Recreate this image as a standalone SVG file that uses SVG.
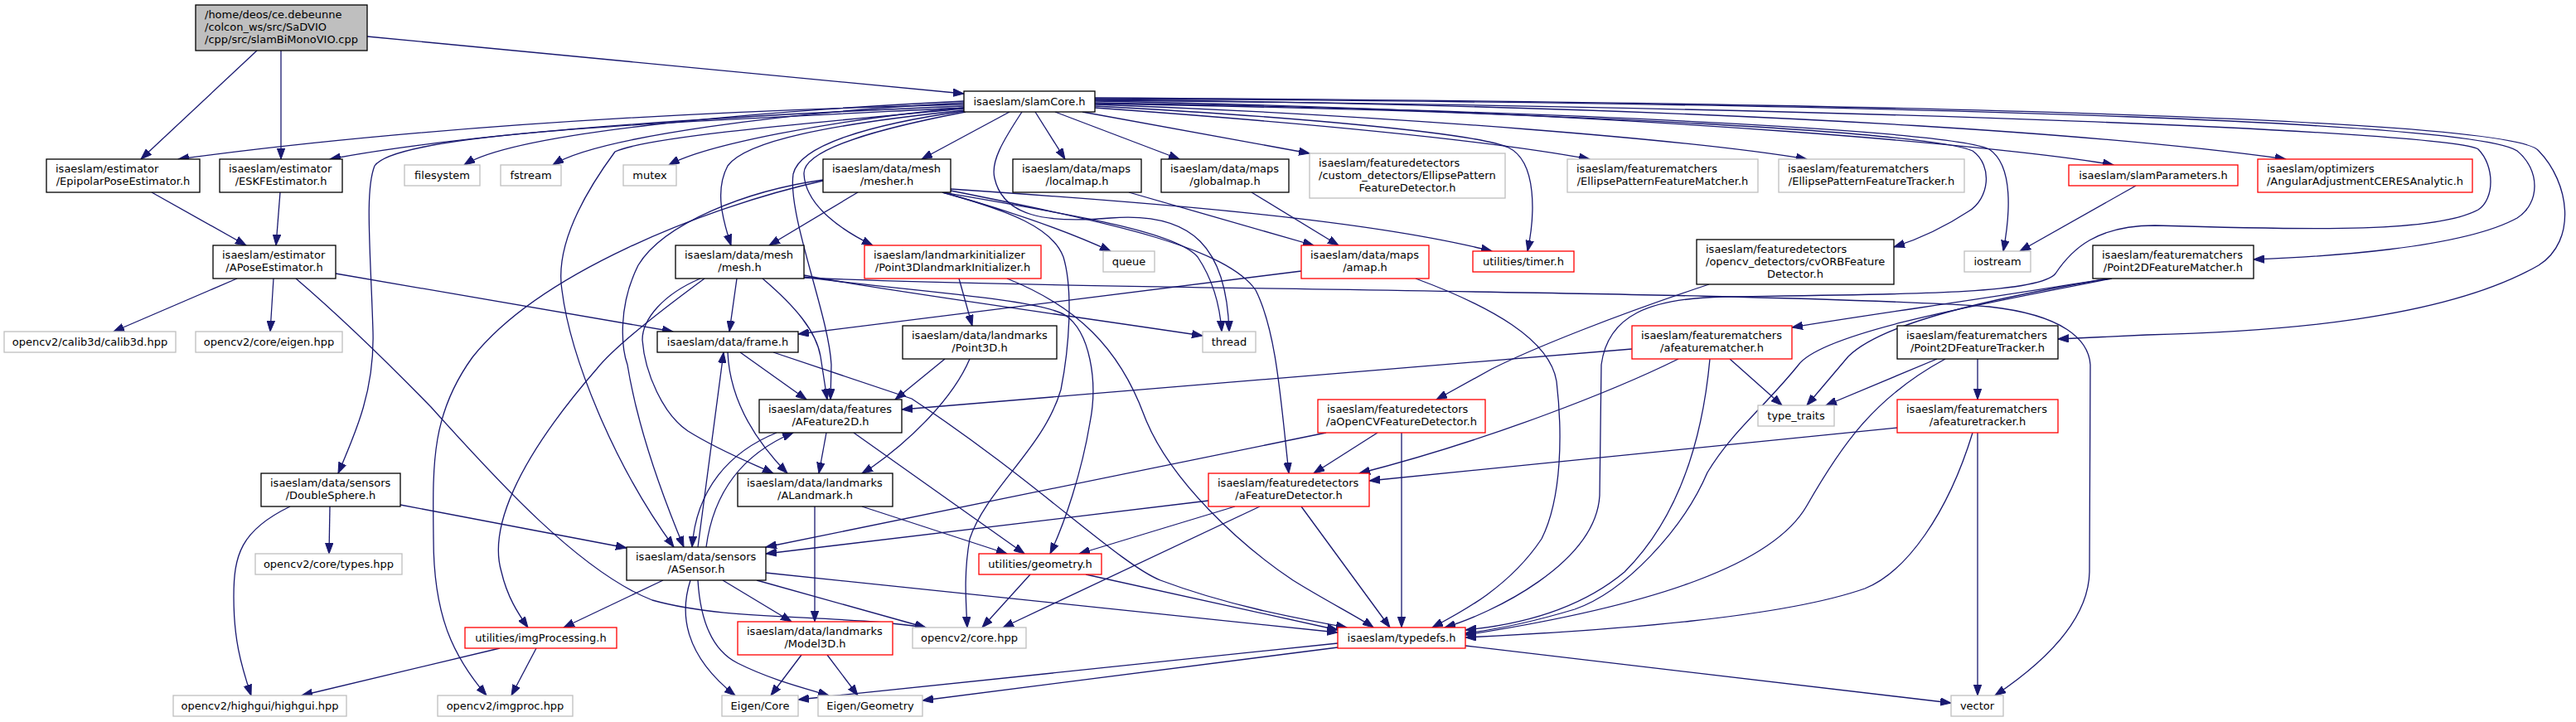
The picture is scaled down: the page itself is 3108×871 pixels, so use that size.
<svg xmlns="http://www.w3.org/2000/svg" width="3108" height="871" viewBox="0 0 3108 871">
<defs>
<marker id="ah" markerUnits="userSpaceOnUse" markerWidth="14" markerHeight="10" viewBox="0 0 14 10" refX="13" refY="5" orient="auto"><path d="M0,0.3 L13,5 L0,9.7 z" fill="#191970" stroke="#191970" stroke-width="1"/></marker>
<style>
#edges path{fill:none;stroke:#191970;stroke-width:1.3;marker-end:url(#ah)}
rect.n{fill:#fff;stroke-width:1.3}
.b rect{stroke:#000}
.r rect{stroke:#ff0000}
.g rect{stroke:#bfbfbf}
text{font-family:"DejaVu Sans","Liberation Sans",sans-serif;font-size:13px;fill:#000}
.m{text-anchor:middle}
</style>
</defs>
<rect width="3108" height="871" fill="#fff"/>
<g id="edges">
<path d="M443,44 L1163,113"/>
<path d="M310,61 L170,192"/>
<path d="M339,61 L339,192"/>
<path d="M1163,126 Q600,140 215,192"/>
<path d="M1163,128 Q620,150 398,192"/>
<path d="M1163,130 C800,148 480,160 452,200 C440,230 447,300 450,400 C452,470 430,520 408,571"/>
<path d="M1163,122 C900,135 620,160 560,199"/>
<path d="M1163,124 C950,135 720,165 667,199"/>
<path d="M1163,130 C1000,145 850,175 807,199"/>
<path d="M1163,131 C980,148 780,165 742,183 C700,240 670,300 678,350 C688,430 740,560 813,660"/>
<path d="M1163,133 C1000,150 900,170 878,200 C862,230 872,265 882,296"/>
<path d="M1218,135 L1112,192"/>
<path d="M1163,134 C1050,150 965,175 957,210 C950,260 1000,380 1003,440 L1002,482"/>
<path d="M1165,135 C1060,155 968,180 970,210 C972,250 1020,280 1053,296"/>
<path d="M1249,135 L1285,192"/>
<path d="M1273,135 L1423,192"/>
<path d="M1233,135 C1210,170 1195,195 1200,215 C1210,260 1260,270 1340,263 C1440,255 1480,300 1483,400"/>
<path d="M1306,135 L1580,185"/>
<path d="M1321,128 C1550,140 1780,160 1820,178 C1855,195 1852,260 1843,303"/>
<path d="M1321,130 C1600,150 1800,170 1918,192"/>
<path d="M1321,126 C1700,140 2050,170 2180,192"/>
<path d="M1321,125 C1900,135 2330,160 2380,182 C2405,200 2400,240 2375,255 C2340,278 2310,290 2285,298"/>
<path d="M1321,124 C1950,135 2360,160 2400,180 C2430,200 2425,260 2417,303"/>
<path d="M1321,122 C2000,135 2450,180 2550,199"/>
<path d="M1321,120 C2200,130 2600,170 2758,192"/>
<path d="M1321,119 C2400,125 2990,150 3037,182 C3065,205 3065,245 3037,263 C2970,300 2800,310 2719,313"/>
<path d="M1321,118 C2500,125 3040,150 3063,182 C3100,220 3110,290 3063,320 C2950,385 2750,400 2590,404 L2483,409"/>
<path d="M1321,121 C2300,130 2960,160 2990,180 C3010,200 3010,240 2990,253 C2940,280 2800,278 2600,272 C2530,272 2500,300 2480,330 C2460,355 2300,355 2080,358 C1990,360 1940,380 1932,440 L1930,598 C1925,680 1800,740 1743,757"/>
<path d="M183,232 L297,296"/>
<path d="M338,232 L333,296"/>
<path d="M286,336 L137,400"/>
<path d="M330,336 L326,400"/>
<path d="M405,330 L812,400"/>
<path d="M357,336 C420,390 480,450 520,491 C600,580 700,690 787,724 C880,750 1000,740 1117,757"/>
<path d="M483,609 L756,661"/>
<path d="M398,611 L397,668"/>
<path d="M350,611 C290,640 282,670 282,720 C282,770 290,800 303,839"/>
<path d="M603,782 L364,839"/>
<path d="M647,782 L617,839"/>
<path d="M993,218 C850,250 650,330 570,431 C520,500 522,560 523,650 C523,740 545,790 587,839"/>
<path d="M993,217 C900,230 800,270 770,320 C745,370 750,420 757,440 C770,520 800,600 825,660"/>
<path d="M850,336 C790,380 740,420 720,445 C620,560 590,640 605,690 C612,720 625,740 637,757"/>
<path d="M845,336 C800,355 775,385 775,410 C778,450 800,500 830,520 C870,545 910,560 933,571"/>
<path d="M889,336 L880,400"/>
<path d="M920,336 C960,370 985,400 990,430 L998,482"/>
<path d="M970,332 C1050,348 1250,375 1451,405"/>
<path d="M970,334 C1100,352 1250,360 1285,380 C1315,400 1325,460 1315,510 C1305,570 1285,630 1267,668"/>
<path d="M970,335 C1300,350 2100,350 2400,370 C2490,380 2520,410 2522,440 L2521,690 C2520,740 2480,790 2407,839"/>
<path d="M893,425 L973,482"/>
<path d="M878,425 C880,470 900,520 950,571"/>
<path d="M933,425 L1100,481 C1250,580 1350,680 1400,700 C1480,730 1560,745 1625,757"/>
<path d="M842,660 L873,425"/>
<path d="M852,660 C860,600 890,550 957,522"/>
<path d="M937,522 C880,545 840,590 835,660"/>
<path d="M997,522 L988,571"/>
<path d="M1030,522 L1236,668"/>
<path d="M1040,611 L1215,668"/>
<path d="M983,611 L983,750"/>
<path d="M872,700 L955,750"/>
<path d="M800,700 L680,757"/>
<path d="M833,700 C820,740 825,790 887,839"/>
<path d="M842,700 C845,750 860,785 890,800 C930,820 970,830 1000,839"/>
<path d="M913,700 L1117,757"/>
<path d="M924,691 L1614,763"/>
<path d="M1310,693 L1614,760"/>
<path d="M967,790 L930,839"/>
<path d="M998,790 L1035,839"/>
<path d="M1614,776 L963,844"/>
<path d="M1614,781 L1113,845"/>
<path d="M1768,779 L2354,848"/>
<path d="M1243,693 L1185,757"/>
<path d="M1520,611 L1210,757"/>
<path d="M1490,611 L1302,668"/>
<path d="M1458,604 L924,668"/>
<path d="M1600,522 L924,660"/>
<path d="M1570,611 L1677,757"/>
<path d="M1662,522 L1585,571"/>
<path d="M1691,522 L1691,757"/>
<path d="M2062,343 C1950,380 1850,420 1800,445 L1733,482"/>
<path d="M2025,433 C1950,470 1800,530 1640,571"/>
<path d="M1969,421 L1088,494"/>
<path d="M2063,433 C2055,520 2030,620 1960,690 C1900,740 1820,755 1768,760"/>
<path d="M2087,433 L2150,489"/>
<path d="M2543,336 C2400,360 2250,380 2162,395"/>
<path d="M2545,336 C2400,360 2270,390 2230,430 L2180,489"/>
<path d="M2548,336 C2400,365 2200,400 2170,440 C2130,490 2090,520 2060,570 C2030,640 1960,714 1900,735 C1850,750 1800,760 1768,764"/>
<path d="M2337,433 L2203,489"/>
<path d="M2386,433 L2386,482"/>
<path d="M2347,433 C2260,480 2220,540 2180,610 C2140,680 2000,730 1768,766"/>
<path d="M2380,522 C2350,620 2300,690 2250,710 C2150,745 1950,760 1768,769"/>
<path d="M2289,516 L1652,580"/>
<path d="M2386,522 L2386,839"/>
<path d="M2577,224 L2437,303"/>
<path d="M1362,232 L1585,296"/>
<path d="M1510,232 L1615,296"/>
<path d="M1570,327 L963,403"/>
<path d="M1708,336 C1800,370 1870,410 1878,460 C1885,520 1885,600 1860,650 C1820,710 1760,740 1728,757"/>
<path d="M1035,232 L928,296"/>
<path d="M1137,232 C1220,255 1290,280 1340,303"/>
<path d="M1147,228 C1400,245 1650,265 1800,303"/>
<path d="M1137,232 C1300,260 1420,280 1445,310 C1465,340 1472,370 1474,400"/>
<path d="M1137,232 C1220,255 1270,275 1283,310 C1295,350 1290,420 1280,470 C1260,540 1190,590 1170,650 C1163,690 1165,720 1167,757"/>
<path d="M1147,230 C1350,270 1480,300 1515,350 C1540,400 1545,480 1555,571"/>
<path d="M1157,336 L1173,393"/>
<path d="M1215,336 C1300,370 1350,420 1380,500 C1410,580 1500,660 1560,700 C1600,725 1640,745 1657,757"/>
<path d="M1140,433 L1080,482"/>
<path d="M1170,433 C1150,480 1100,530 1050,565 L1040,571"/>
</g>
<g id="root" class="b"><rect class="n" x="236" y="6" width="207" height="55" style="fill:#bfbfbf"/><text x="247" y="22">/home/deos/ce.debeunne</text><text x="247" y="37">/colcon_ws/src/SaDVIO</text><text class="m" x="339.5" y="51.5">/cpp/src/slamBiMonoVIO.cpp</text></g>
<g id="slamCore" class="b"><rect class="n" x="1163" y="110" width="158" height="25"/><text class="m" x="1242" y="127">isaeslam/slamCore.h</text></g>
<g id="epipolar" class="b"><rect class="n" x="56" y="192" width="185" height="40"/><text x="67" y="208">isaeslam/estimator</text><text class="m" x="148.5" y="223">/EpipolarPoseEstimator.h</text></g>
<g id="eskf" class="b"><rect class="n" x="265" y="192" width="148" height="40"/><text x="276" y="208">isaeslam/estimator</text><text class="m" x="339" y="223">/ESKFEstimator.h</text></g>
<g id="apose" class="b"><rect class="n" x="257" y="296" width="148" height="40"/><text x="268" y="312">isaeslam/estimator</text><text class="m" x="331" y="327">/APoseEstimator.h</text></g>
<g id="calib3d" class="g"><rect class="n" x="5" y="400" width="207" height="25"/><text class="m" x="108.5" y="417">opencv2/calib3d/calib3d.hpp</text></g>
<g id="eigenhpp" class="g"><rect class="n" x="236" y="400" width="177" height="25"/><text class="m" x="324.5" y="417">opencv2/core/eigen.hpp</text></g>
<g id="filesystem" class="g"><rect class="n" x="488" y="199" width="91" height="25"/><text class="m" x="533.5" y="216">filesystem</text></g>
<g id="fstream" class="g"><rect class="n" x="604" y="199" width="73" height="25"/><text class="m" x="640.5" y="216">fstream</text></g>
<g id="mutex" class="g"><rect class="n" x="752" y="199" width="64" height="25"/><text class="m" x="784" y="216">mutex</text></g>
<g id="mesher" class="b"><rect class="n" x="993" y="192" width="154" height="40"/><text x="1004" y="208">isaeslam/data/mesh</text><text class="m" x="1070" y="223">/mesher.h</text></g>
<g id="localmap" class="b"><rect class="n" x="1222" y="192" width="155" height="40"/><text x="1233" y="208">isaeslam/data/maps</text><text class="m" x="1299.5" y="223">/localmap.h</text></g>
<g id="globalmap" class="b"><rect class="n" x="1401" y="192" width="154" height="40"/><text x="1412" y="208">isaeslam/data/maps</text><text class="m" x="1478" y="223">/globalmap.h</text></g>
<g id="ellipseDetector" class="g"><rect class="n" x="1580" y="185" width="236" height="54"/><text x="1591" y="201">isaeslam/featuredetectors</text><text x="1591" y="216">/custom_detectors/EllipsePattern</text><text class="m" x="1698" y="230.5">FeatureDetector.h</text></g>
<g id="ellipseMatcher" class="g"><rect class="n" x="1891" y="192" width="230" height="40"/><text x="1902" y="208">isaeslam/featurematchers</text><text class="m" x="2006" y="223">/EllipsePatternFeatureMatcher.h</text></g>
<g id="ellipseTracker" class="g"><rect class="n" x="2146" y="192" width="224" height="40"/><text x="2157" y="208">isaeslam/featurematchers</text><text class="m" x="2258" y="223">/EllipsePatternFeatureTracker.h</text></g>
<g id="slamParameters" class="r"><rect class="n" x="2496" y="199" width="204" height="25"/><text class="m" x="2598" y="216">isaeslam/slamParameters.h</text></g>
<g id="angular" class="r"><rect class="n" x="2724" y="192" width="259" height="40"/><text x="2735" y="208">isaeslam/optimizers</text><text class="m" x="2853.5" y="223">/AngularAdjustmentCERESAnalytic.h</text></g>
<g id="mesh" class="b"><rect class="n" x="815" y="296" width="155" height="40"/><text x="826" y="312">isaeslam/data/mesh</text><text class="m" x="892.5" y="327">/mesh.h</text></g>
<g id="p3dinit" class="r"><rect class="n" x="1043" y="296" width="213" height="40"/><text x="1054" y="312">isaeslam/landmarkinitializer</text><text class="m" x="1149.5" y="327">/Point3DlandmarkInitializer.h</text></g>
<g id="queue" class="g"><rect class="n" x="1331" y="303" width="62" height="25"/><text class="m" x="1362" y="320">queue</text></g>
<g id="amap" class="r"><rect class="n" x="1570" y="296" width="154" height="40"/><text x="1581" y="312">isaeslam/data/maps</text><text class="m" x="1647" y="327">/amap.h</text></g>
<g id="timer" class="r"><rect class="n" x="1777" y="303" width="122" height="25"/><text class="m" x="1838" y="320">utilities/timer.h</text></g>
<g id="cvorb" class="b"><rect class="n" x="2047" y="289" width="238" height="54"/><text x="2058" y="305">isaeslam/featuredetectors</text><text x="2058" y="320">/opencv_detectors/cvORBFeature</text><text class="m" x="2166" y="334.5">Detector.h</text></g>
<g id="iostream" class="g"><rect class="n" x="2370" y="303" width="80" height="25"/><text class="m" x="2410" y="320">iostream</text></g>
<g id="p2dmatcher" class="b"><rect class="n" x="2525" y="296" width="194" height="40"/><text x="2536" y="312">isaeslam/featurematchers</text><text class="m" x="2622" y="327">/Point2DFeatureMatcher.h</text></g>
<g id="frame" class="b"><rect class="n" x="793" y="400" width="170" height="25"/><text class="m" x="878" y="417">isaeslam/data/frame.h</text></g>
<g id="point3d" class="b"><rect class="n" x="1089" y="393" width="186" height="40"/><text x="1100" y="409">isaeslam/data/landmarks</text><text class="m" x="1182" y="424">/Point3D.h</text></g>
<g id="thread" class="g"><rect class="n" x="1451" y="400" width="64" height="25"/><text class="m" x="1483" y="417">thread</text></g>
<g id="afeaturematcher" class="r"><rect class="n" x="1969" y="393" width="193" height="40"/><text x="1980" y="409">isaeslam/featurematchers</text><text class="m" x="2065.5" y="424">/afeaturematcher.h</text></g>
<g id="p2dtracker" class="b"><rect class="n" x="2289" y="393" width="194" height="40"/><text x="2300" y="409">isaeslam/featurematchers</text><text class="m" x="2386" y="424">/Point2DFeatureTracker.h</text></g>
<g id="afeature2d" class="b"><rect class="n" x="916" y="482" width="172" height="40"/><text x="927" y="498">isaeslam/data/features</text><text class="m" x="1002" y="513">/AFeature2D.h</text></g>
<g id="aopencv" class="r"><rect class="n" x="1590" y="482" width="202" height="40"/><text x="1601" y="498">isaeslam/featuredetectors</text><text class="m" x="1691" y="513">/aOpenCVFeatureDetector.h</text></g>
<g id="typetraits" class="g"><rect class="n" x="2121" y="489" width="92" height="25"/><text class="m" x="2167" y="506">type_traits</text></g>
<g id="afeaturetracker" class="r"><rect class="n" x="2289" y="482" width="194" height="40"/><text x="2300" y="498">isaeslam/featurematchers</text><text class="m" x="2386" y="513">/afeaturetracker.h</text></g>
<g id="doublesphere" class="b"><rect class="n" x="315" y="571" width="168" height="40"/><text x="326" y="587">isaeslam/data/sensors</text><text class="m" x="399" y="602">/DoubleSphere.h</text></g>
<g id="alandmark" class="b"><rect class="n" x="890" y="571" width="187" height="40"/><text x="901" y="587">isaeslam/data/landmarks</text><text class="m" x="983.5" y="602">/ALandmark.h</text></g>
<g id="afeaturedetector" class="r"><rect class="n" x="1458" y="571" width="194" height="40"/><text x="1469" y="587">isaeslam/featuredetectors</text><text class="m" x="1555" y="602">/aFeatureDetector.h</text></g>
<g id="types" class="g"><rect class="n" x="308" y="668" width="177" height="25"/><text class="m" x="396.5" y="685">opencv2/core/types.hpp</text></g>
<g id="asensor" class="b"><rect class="n" x="756" y="660" width="168" height="40"/><text x="767" y="676">isaeslam/data/sensors</text><text class="m" x="840" y="691">/ASensor.h</text></g>
<g id="geometry" class="r"><rect class="n" x="1181" y="668" width="148" height="25"/><text class="m" x="1255" y="685">utilities/geometry.h</text></g>
<g id="imgprocessing" class="r"><rect class="n" x="561" y="757" width="183" height="25"/><text class="m" x="652.5" y="774">utilities/imgProcessing.h</text></g>
<g id="model3d" class="r"><rect class="n" x="890" y="750" width="187" height="40"/><text x="901" y="766">isaeslam/data/landmarks</text><text class="m" x="983.5" y="781">/Model3D.h</text></g>
<g id="corehpp" class="g"><rect class="n" x="1101" y="757" width="137" height="25"/><text class="m" x="1169.5" y="774">opencv2/core.hpp</text></g>
<g id="typedefs" class="r"><rect class="n" x="1614" y="757" width="154" height="25"/><text class="m" x="1691" y="774">isaeslam/typedefs.h</text></g>
<g id="highgui" class="g"><rect class="n" x="209" y="839" width="209" height="25"/><text class="m" x="313.5" y="856">opencv2/highgui/highgui.hpp</text></g>
<g id="imgprochpp" class="g"><rect class="n" x="528" y="839" width="163" height="25"/><text class="m" x="609.5" y="856">opencv2/imgproc.hpp</text></g>
<g id="eigencore" class="g"><rect class="n" x="871" y="839" width="92" height="25"/><text class="m" x="917" y="856">Eigen/Core</text></g>
<g id="eigengeometry" class="g"><rect class="n" x="987" y="839" width="126" height="25"/><text class="m" x="1050" y="856">Eigen/Geometry</text></g>
<g id="vector" class="g"><rect class="n" x="2354" y="839" width="63" height="25"/><text class="m" x="2385.5" y="856">vector</text></g>
</svg>
